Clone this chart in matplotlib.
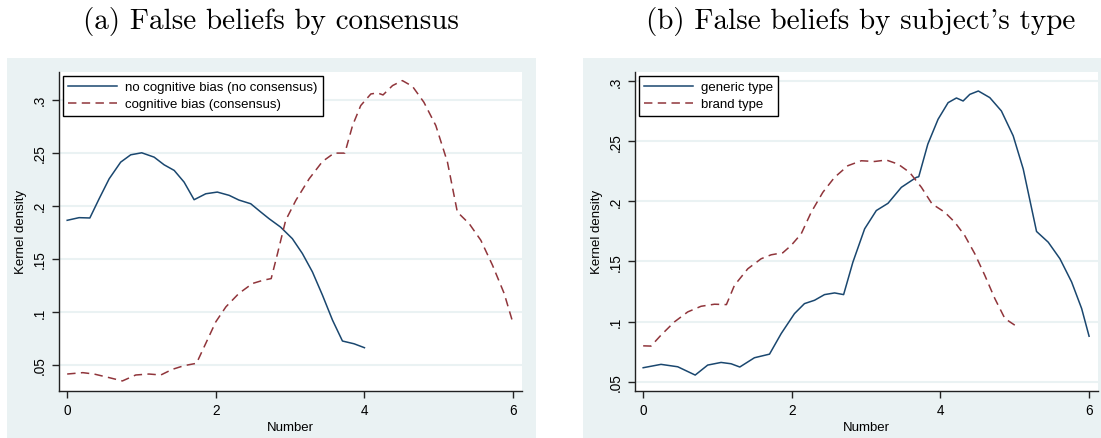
import matplotlib
matplotlib.use("Agg")
import matplotlib.pyplot as plt
from matplotlib.patches import Rectangle

# kernel density of "Number" by consensus
cons_x_nobias = [0.0, 0.16, 0.305, 0.43, 0.565, 0.72, 0.855, 1.003, 1.17, 1.304, 1.44,
                 1.573, 1.708, 1.865, 2.02, 2.18, 2.31, 2.47, 2.605, 2.717, 2.87, 3.03,
                 3.165, 3.30, 3.435, 3.57, 3.704, 3.86, 4.0]
cons_y_nobias = [0.1863, 0.1888, 0.1885, 0.2066, 0.2254, 0.2411, 0.248, 0.2499, 0.2458,
                 0.2386, 0.2333, 0.2223, 0.2057, 0.2113, 0.2129, 0.2098, 0.2054, 0.2019,
                 0.1941, 0.1878, 0.180, 0.169, 0.155, 0.1377, 0.1158, 0.0923, 0.0726,
                 0.070, 0.0663]
cons_x_bias = [0.0, 0.21, 0.362, 0.565, 0.743, 0.923, 1.1, 1.26, 1.415, 1.573, 1.74,
               1.865, 2.0, 2.136, 2.31, 2.494, 2.64, 2.745, 2.83, 2.94, 3.077, 3.256,
               3.435, 3.592, 3.736, 3.84, 3.95, 4.086, 4.175, 4.25, 4.378, 4.51, 4.646,
               4.80, 4.96, 5.117, 5.25, 5.41, 5.566, 5.723, 5.88, 6.0]
cons_y_bias = [0.0415, 0.0428, 0.0415, 0.0381, 0.035, 0.0406, 0.0415, 0.0406, 0.0459,
               0.0494, 0.0516, 0.0704, 0.0907, 0.1048, 0.1174, 0.1268, 0.1299, 0.1314,
               0.1549, 0.1863, 0.2051, 0.2254, 0.2417, 0.2496, 0.2496, 0.2756, 0.2944,
               0.3053, 0.3063, 0.3044, 0.3132, 0.3179, 0.3125, 0.2975, 0.2756, 0.2411,
               0.1941, 0.1831, 0.1675, 0.144, 0.1174, 0.0892]

# kernel density of "Number" by subject's type
type_x_generic = [0.0, 0.24, 0.465, 0.70, 0.868, 1.048, 1.183, 1.30, 1.497, 1.70, 1.857,
                  2.036, 2.17, 2.306, 2.44, 2.576, 2.697, 2.822, 2.98, 3.137, 3.294,
                  3.474, 3.676, 3.708, 3.83, 3.968, 4.103, 4.215, 4.305, 4.395, 4.51,
                  4.664, 4.82, 4.979, 5.114, 5.293, 5.45, 5.608, 5.765, 5.9, 6.0]
type_y_generic = [0.0616, 0.0644, 0.0624, 0.0555, 0.0638, 0.066, 0.0649, 0.0622, 0.0699,
                  0.0729, 0.090, 0.1066, 0.1149, 0.1177, 0.1224, 0.1238, 0.1224, 0.1494,
                  0.1771, 0.1923, 0.1983, 0.2116, 0.2199, 0.2204, 0.2475, 0.2682, 0.282,
                  0.2859, 0.2834, 0.2889, 0.2917, 0.2862, 0.2751, 0.2544, 0.2268, 0.1749,
                  0.166, 0.1522, 0.1329, 0.1108, 0.0878]
type_x_brand = [0.0, 0.105, 0.24, 0.42, 0.599, 0.779, 0.959, 1.12, 1.228, 1.408, 1.587,
                1.722, 1.879, 1.991, 2.126, 2.261, 2.418, 2.575, 2.755, 2.935, 3.114,
                3.272, 3.43, 3.586, 3.744, 3.887, 4.058, 4.193, 4.327, 4.462, 4.597,
                4.732, 4.867, 5.0]
type_y_brand = [0.0798, 0.0796, 0.0887, 0.0997, 0.108, 0.1127, 0.1144, 0.1141, 0.1301,
                0.1439, 0.1522, 0.1555, 0.1572, 0.1633, 0.1729, 0.1909, 0.2075, 0.2199,
                0.2296, 0.2337, 0.2331, 0.2343, 0.2309, 0.224, 0.2116, 0.1978, 0.1909,
                0.1826, 0.1715, 0.1564, 0.1384, 0.1191, 0.1025, 0.097]

x_ticks = [0, 2, 4, 6]
y_ticks = [0.05, 0.10, 0.15, 0.20, 0.25, 0.30]
y_ticklabels = [".05", ".1", ".15", ".2", ".25", ".3"]

NAVY = "#1a476f"
MAROON = "#90353b"
BG = "#eaf2f3"
DASH = (0, (5.5, 3.5))

plt.rcParams["font.family"] = ["Liberation Sans", "DejaVu Sans"]
plt.rcParams["font.size"] = 9.5

W, H = 1101, 439
fig = plt.figure(figsize=(W / 100, H / 100), dpi=100)
fig.patch.set_facecolor("white")

# graph region backgrounds
fig.patches.append(Rectangle((7 / W, 0), (536 - 7) / W, (H - 59) / H,
                             transform=fig.transFigure, facecolor=BG, edgecolor="none", zorder=-5))
fig.patches.append(Rectangle((583 / W, 0), (W - 583) / W, (H - 59) / H,
                             transform=fig.transFigure, facecolor=BG, edgecolor="none", zorder=-5))


def style_axes(ax, ylim):
    ax.set_xlim(-0.11, 6.12)
    ax.set_ylim(*ylim)
    ax.set_xticks(x_ticks)
    ax.set_xticklabels([str(t) for t in x_ticks])
    ax.set_yticks(y_ticks)
    ax.set_yticklabels(y_ticklabels, rotation=90, va="center")
    for s in ["top", "right"]:
        ax.spines[s].set_visible(False)
    for s in ["left", "bottom"]:
        ax.spines[s].set_color("#222222")
        ax.spines[s].set_linewidth(1.0)
    ax.tick_params(direction="out", length=5, width=1, color="#222222", pad=4, labelsize=9.8)
    ax.yaxis.grid(True, color=BG, linewidth=1.5)
    ax.set_axisbelow(True)
    ax.set_xlabel("Number", labelpad=3)
    ax.set_ylabel("Kernel density", labelpad=4)


def add_legend(ax):
    leg = ax.legend(loc="upper left", fancybox=False, edgecolor="black", framealpha=1,
                    borderpad=0.4, labelspacing=0.35, handlelength=3.7,
                    handletextpad=0.6, borderaxespad=0.3, fontsize=9.5)
    leg.get_frame().set_linewidth(1.0)


axl = fig.add_axes([59 / W, (H - 391.7) / H, 463 / W, 318.7 / H])
axl.plot(cons_x_nobias, cons_y_nobias, color=NAVY, lw=1.1, label="no cognitive bias (no consensus)")
axl.plot(cons_x_bias, cons_y_bias, color=MAROON, lw=1.1, ls=DASH,
         label="cognitive bias (consensus)")
style_axes(axl, (0.0258, 0.326))
add_legend(axl)

axr = fig.add_axes([635 / W, (H - 391.7) / H, 463 / W, 318.7 / H])
axr.plot(type_x_generic, type_y_generic, color=NAVY, lw=1.1, label="generic type")
axr.plot(type_x_brand, type_y_brand, color=MAROON, lw=1.1, ls=DASH, label="brand type")
style_axes(axr, (0.0425, 0.3075))
add_legend(axr)

title_font = ["cmr10", "DejaVu Serif"]
fig.text(271 / W, 1 - 22 / H, "(a) False beliefs by consensus", family=title_font,
         fontsize=21, ha="center", va="center")
fig.text(861 / W, 1 - 22 / H, "(b) False beliefs by subject's type", family=title_font,
         fontsize=21, ha="center", va="center")

fig.savefig("out.png", dpi=100)
